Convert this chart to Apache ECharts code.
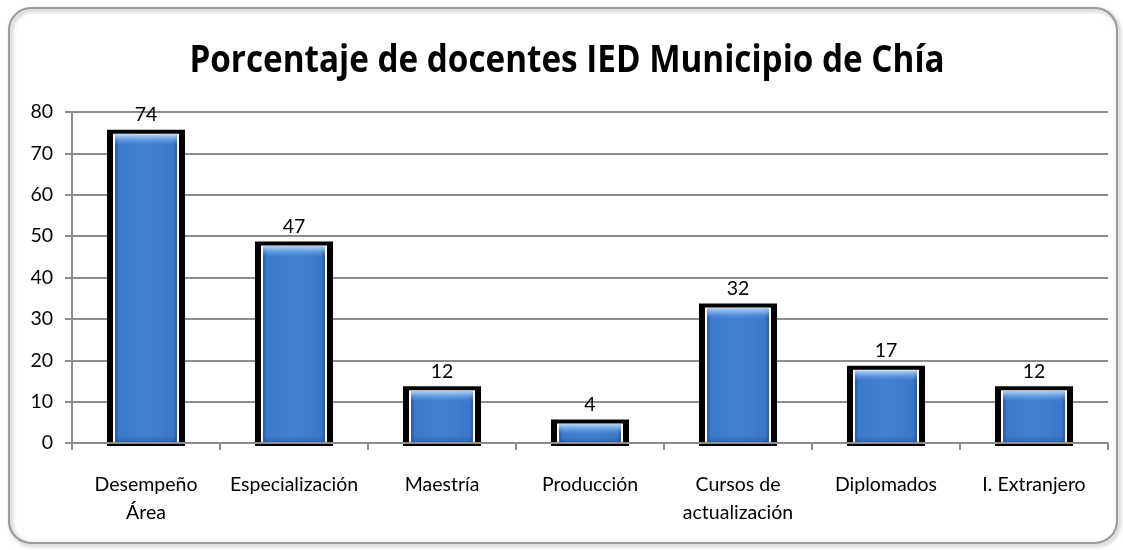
<!DOCTYPE html>
<html><head><meta charset="utf-8">
<script src="https://cdn.jsdelivr.net/npm/echarts@6/dist/echarts.min.js"></script>
<style>html,body{margin:0;padding:0;background:#fff}#c{width:1123px;height:550px}</style>
</head><body><div id="c"></div>
<script>
const categories = ['Desempeño\nÁrea','Especialización','Maestría','Producción','Cursos de\nactualización','Diplomados','I. Extranjero'];
const values = [74,47,12,4,32,17,12];
const yTicks = [0,10,20,30,40,50,60,70,80];
const titleText = 'Porcentaje de docentes IED Municipio de Chía';

const chart = echarts.init(document.getElementById('c'));
const font = 'Lato,"Open Sans",sans-serif';

function renderBar(params, api){
  const p = api.coord([api.value(0), api.value(1)]);
  const b = api.coord([api.value(0), 0]);
  const cx = p[0], vy = p[1], by = b[1];
  const blueGrad = new echarts.graphic.LinearGradient(0,0,1,0,[
    {offset:0,color:'#2a5ba8'},{offset:0.07,color:'#3b7acd'},{offset:0.5,color:'#4181d3'},
    {offset:0.93,color:'#3a78ca'},{offset:1,color:'#2a5ba8'}]);
  const topH = Math.min(10, Math.max(0, by - vy - 2));
  return {type:'group', children:[
    {type:'rect', shape:{x:cx-39, y:vy-7, width:78, height:by-vy+10}, style:{fill:'#000'}},
    {type:'rect', shape:{x:cx-33, y:vy-3, width:66, height:by-vy+3}, style:{fill:'#fff'}},
    {type:'rect', shape:{x:cx-31, y:vy-2, width:62, height:by-vy+1}, style:{fill:blueGrad}},
    {type:'rect', shape:{x:cx-31, y:vy-2, width:62, height:topH}, style:{fill:new echarts.graphic.LinearGradient(0,0,0,1,[
      {offset:0,color:'rgba(190,225,255,0.85)'},{offset:1,color:'rgba(120,170,235,0)'}])}},
    {type:'rect', shape:{x:cx-31, y:by-7, width:62, height:7}, style:{fill:new echarts.graphic.LinearGradient(0,0,0,1,[
      {offset:0,color:'rgba(30,70,140,0)'},{offset:1,color:'rgba(30,70,140,0.45)'}])}},
    {type:'text', x:cx, y:vy-22, style:{text:String(api.value(1)), font:'19.5px '+font, fill:'#000', align:'center', verticalAlign:'middle'}}
  ]};
}

chart.setOption({
  animation:false,
  graphic:[
    {type:'rect',shape:{x:9,y:8,width:1108,height:535,r:22},style:{fill:'none',stroke:'#9a9a9a',lineWidth:2,shadowBlur:4,shadowColor:'rgba(0,0,0,0.35)',shadowOffsetX:2,shadowOffsetY:2},z:-1},
    {type:'text',x:567,y:61,scaleX:0.875,style:{text:titleText,font:'bold 38px "Open Sans",sans-serif',fill:'#000',align:'center',verticalAlign:'middle'}}
  ],
  grid:{left:72,right:15,top:112,bottom:107},
  xAxis:{type:'category',data:categories,z:5,
    axisLine:{lineStyle:{color:'#8c8c8c',width:2}},
    axisTick:{show:true,length:7,lineStyle:{color:'#8c8c8c',width:2}},
    axisLabel:{fontFamily:font,fontSize:19.5,color:'#000',margin:28,lineHeight:28,interval:0}},
  yAxis:{type:'value',min:0,max:80,interval:10,
    axisLine:{show:true,lineStyle:{color:'#8c8c8c',width:2}},
    axisTick:{show:true,length:7,lineStyle:{color:'#8c8c8c',width:2}},
    splitLine:{lineStyle:{color:'#8c8c8c',width:2}},
    axisLabel:{fontFamily:font,fontSize:19.5,color:'#000',margin:19,formatter:v=>yTicks.includes(v)?String(v):''}},
  series:[{type:'custom',data:values.map((v,i)=>[i,v]),encode:{x:0,y:1},renderItem:renderBar,z:2}]
});
</script></body></html>
